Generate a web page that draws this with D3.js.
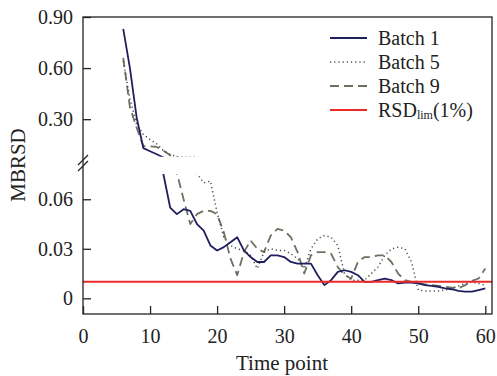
<!DOCTYPE html>
<html>
<head>
<meta charset="utf-8">
<script src="https://cdn.jsdelivr.net/npm/d3@7"></script>
<style>
  body { margin: 0; background: #fff; }
  svg { display: block; }
  svg text { font-family: "Liberation Serif", "DejaVu Serif", "Times New Roman", serif !important; }
</style>
</head>
<body>
<svg id="chart" width="497" height="376"></svg>
<script>
// time points 6..60
const timePoints = d3.range(6, 61);

const batch1 = [
  0.83, 0.60, 0.31, 0.13, 0.112, 0.094, 0.075, 0.055, 0.051, 0.054,
  0.053, 0.045, 0.041, 0.032, 0.029, 0.031, 0.034, 0.037, 0.029, 0.025,
  0.022, 0.022, 0.026, 0.026, 0.025, 0.022, 0.021, 0.021, 0.021, 0.014,
  0.008, 0.011, 0.016, 0.017, 0.016, 0.014, 0.010, 0.010, 0.011, 0.012,
  0.011, 0.009, 0.0095, 0.0095, 0.009, 0.008, 0.0075, 0.007, 0.006, 0.0055,
  0.0045, 0.004, 0.004, 0.005, 0.006
];
const batch5 = [
  0.64, 0.42, 0.27, 0.21, 0.18, 0.155, 0.115, 0.092, 0.08, 0.077,
  0.077, 0.0755, 0.070, 0.071, 0.052, 0.037, 0.032, 0.030, 0.029, 0.026,
  0.018, 0.028, 0.030, 0.029, 0.029, 0.027, 0.024, 0.018, 0.030, 0.036,
  0.038, 0.037, 0.032, 0.015, 0.011, 0.011, 0.011, 0.015, 0.019, 0.026,
  0.030, 0.031, 0.030, 0.022, 0.005, 0.0045, 0.0045, 0.0045, 0.005, 0.006,
  0.0075, 0.009, 0.010, 0.009, 0.008
];
const batch9 = [
  0.66, 0.37, 0.25, 0.143, 0.14, 0.137, 0.115, 0.088, 0.076, 0.060,
  0.045, 0.051, 0.053, 0.053, 0.051, 0.040, 0.024, 0.014, 0.028, 0.035,
  0.030, 0.028, 0.038, 0.042, 0.041, 0.037, 0.028, 0.015, 0.026, 0.028,
  0.028, 0.027, 0.019, 0.014, 0.012, 0.022, 0.025, 0.025, 0.026, 0.026,
  0.022, 0.015, 0.011, 0.010, 0.009, 0.0085, 0.008, 0.0075, 0.007, 0.0065,
  0.006, 0.008, 0.0105, 0.012, 0.018
];
const rsdLim = 0.01;

const xTicks = [0, 10, 20, 30, 40, 50, 60];
const yTicksUpper = [0.30, 0.60, 0.90];
const yTicksLower = [0, 0.03, 0.06];
const seriesNames = ["Batch 1", "Batch 5", "Batch 9"];

const svg = d3.select("#chart");
const mLeft = 83, mRight = 492, mTop = 17, mBottom = 314;
const breakVal = 0.075;
const upBottom = 157.5, loTop = 174.5;

const x = d3.scaleLinear().domain([0, 61]).range([mLeft, mRight]);
// broken y axis: two scales
const yUp = d3.scaleLinear().domain([breakVal, 0.9]).range([upBottom, mTop]);
const yLo = d3.scaleLinear().domain([-0.0095, breakVal]).range([mBottom, loTop]);

const defs = svg.append("defs");
defs.append("clipPath").attr("id", "clipUp").append("rect")
  .attr("x", mLeft).attr("y", mTop).attr("width", mRight - mLeft).attr("height", upBottom - mTop - 0.8);
defs.append("clipPath").attr("id", "clipLo").append("rect")
  .attr("x", mLeft).attr("y", loTop - 0.5).attr("width", mRight - mLeft).attr("height", mBottom - loTop + 0.5);

const styles = [
  {data: batch1, color: "#1f1f5e", width: 1.8, dash: null},
  {data: batch5, color: "#4a4a4a", width: 1.5, dash: "1.2,3"},
  {data: batch9, color: "#6d7160", width: 1.8, dash: "9,5"}
];
const order = [2, 1, 0];

[["clipUp", yUp], ["clipLo", yLo]].forEach(function (seg) {
  const g = svg.append("g").attr("clip-path", "url(#" + seg[0] + ")");
  const line = d3.line()
    .x(function (d, i) { return x(timePoints[i]); })
    .y(function (d) { return seg[1](d); });
  order.forEach(function (k) {
    const s = styles[k];
    g.append("path")
      .attr("d", line(s.data))
      .attr("fill", "none")
      .attr("stroke", s.color)
      .attr("stroke-width", s.width)
      .attr("stroke-dasharray", s.dash)
      .attr("stroke-linejoin", "round");
  });
});

// RSD limit
svg.append("line")
  .attr("x1", x(0)).attr("x2", mRight)
  .attr("y1", yLo(rsdLim)).attr("y2", yLo(rsdLim))
  .attr("stroke", "#ec2a2a").attr("stroke-width", 2);

// frame
svg.append("rect")
  .attr("x", mLeft).attr("y", mTop).attr("width", mRight - mLeft).attr("height", mBottom - mTop)
  .attr("fill", "none").attr("stroke", "#222").attr("stroke-width", 1.3);

// axes
function styleAxis(g) {
  g.select(".domain").remove();
  g.selectAll(".tick line").attr("stroke", "#222").attr("stroke-width", 1.3);
  g.selectAll(".tick text").attr("fill", "#222").attr("font-size", 20);
}
svg.append("g").attr("transform", "translate(0," + mBottom + ")")
  .call(d3.axisBottom(x).tickValues(xTicks).tickSize(-8).tickPadding(15).tickFormat(d3.format("d")))
  .call(styleAxis);
svg.append("g").attr("transform", "translate(" + mLeft + ",0)")
  .call(d3.axisLeft(yUp).tickValues(yTicksUpper).tickSize(-8).tickPadding(10).tickFormat(d3.format(".2f")))
  .call(styleAxis);
svg.append("g").attr("transform", "translate(" + mLeft + ",0)")
  .call(d3.axisLeft(yLo).tickValues(yTicksLower).tickSize(-8).tickPadding(10)
    .tickFormat(function (d) { return d === 0 ? "0" : d3.format(".2f")(d); }))
  .call(styleAxis);

// break marks
[160, 166].forEach(function (yy) {
  svg.append("line")
    .attr("x1", mLeft - 5).attr("y1", yy + 5).attr("x2", mLeft + 5).attr("y2", yy - 5)
    .attr("stroke", "#222").attr("stroke-width", 1.3);
});

// axis titles
svg.append("text")
  .attr("x", 282).attr("y", 370)
  .attr("text-anchor", "middle").attr("font-size", 21).attr("fill", "#222")
  .text("Time point");
svg.append("text")
  .attr("transform", "translate(25,165) rotate(-90)")
  .attr("text-anchor", "middle").attr("font-size", 21).attr("fill", "#222")
  .text("MBRSD");

// legend
const legend = svg.append("g").attr("font-size", 20).attr("fill", "#222");
const legendY = [38, 62, 86, 110];
styles.forEach(function (s, i) {
  legend.append("line")
    .attr("x1", 330).attr("x2", 367).attr("y1", legendY[i]).attr("y2", legendY[i])
    .attr("stroke", s.color).attr("stroke-width", s.width)
    .attr("stroke-dasharray", s.dash);
  legend.append("text").attr("x", 378).attr("y", legendY[i] + 7).text(seriesNames[i]);
});
legend.append("line")
  .attr("x1", 330).attr("x2", 367).attr("y1", legendY[3]).attr("y2", legendY[3])
  .attr("stroke", "#ec2a2a").attr("stroke-width", 2);
const rt = legend.append("text").attr("x", 378).attr("y", legendY[3] + 7);
rt.append("tspan").text("RSD");
rt.append("tspan").attr("font-size", 12).attr("dy", 2).text("lim");
rt.append("tspan").attr("dy", -2).text("(1%)");
</script>
</body>
</html>
